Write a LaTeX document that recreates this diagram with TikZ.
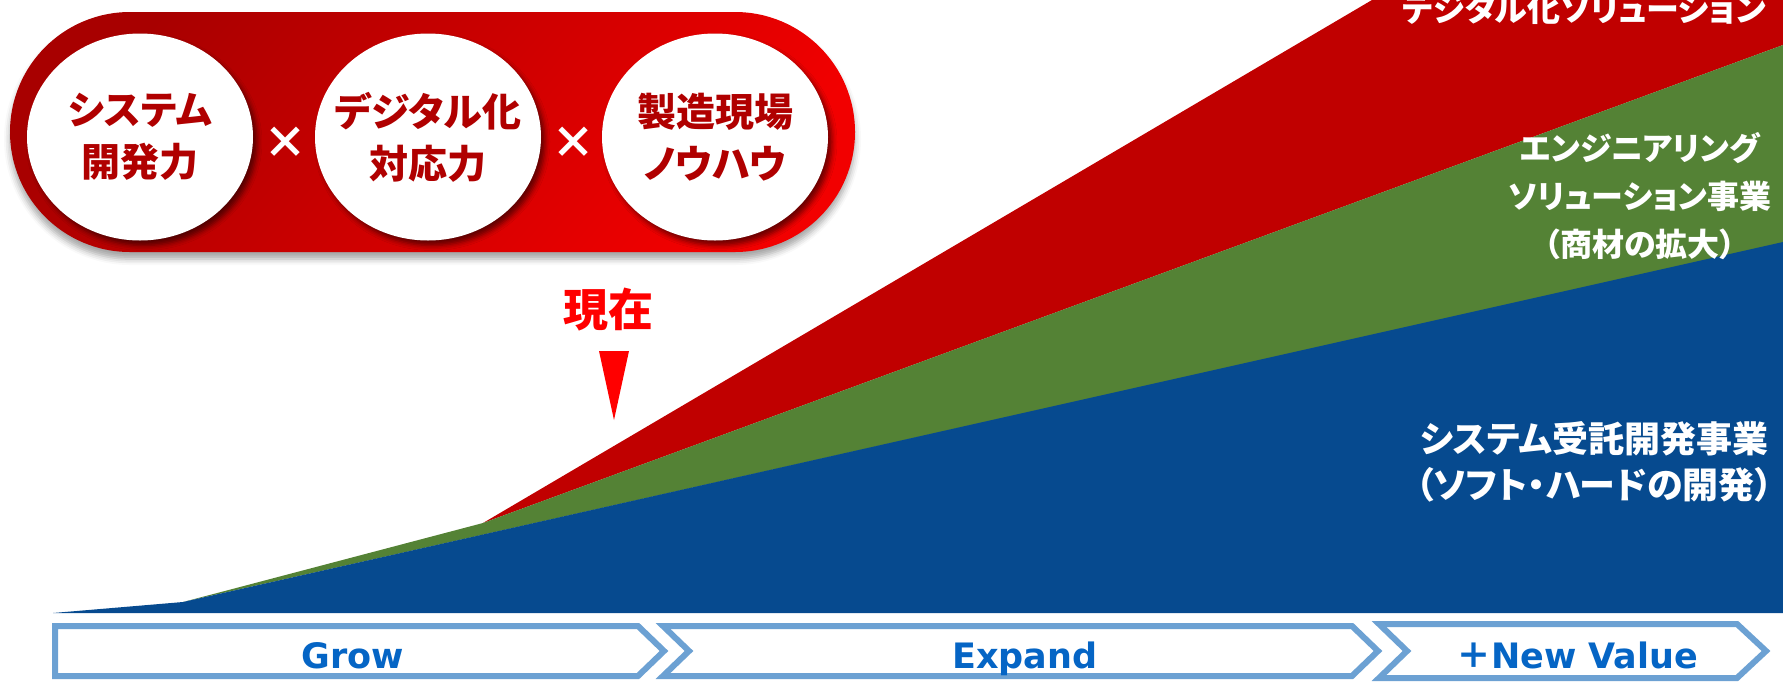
\documentclass[tikz,border=0pt]{standalone}
\usepackage{fontspec}
\usetikzlibrary{shapes.geometric,shadows.blur}
\newfontfamily\jp{Noto Sans CJK JP}[RawFeature={+palt}]
\newfontfamily\lat{DejaVu Sans}
\definecolor{areaBlue}{HTML}{064A8F}
\definecolor{areaGreen}{HTML}{548235}
\definecolor{areaRed}{HTML}{C00000}
\definecolor{pillDark}{HTML}{A80000}
\definecolor{pillBright}{HTML}{F20000}
\definecolor{circText}{HTML}{B00000}
\definecolor{chevBlue}{HTML}{6CA1D3}
\definecolor{phaseText}{HTML}{0565C5}
\definecolor{nowRed}{HTML}{FF0000}
\tikzset{
  pill/.style={rectangle, rounded corners=120pt, minimum width=845pt, minimum height=240pt,
    top color=pillDark, bottom color=pillBright, shading angle=50,
    blur shadow={shadow xshift=0pt, shadow yshift=-7pt, shadow blur radius=6pt, shadow opacity=35}},
  circ/.style={ellipse, fill=white, minimum width=226pt, minimum height=207pt, inner sep=0pt,
    blur shadow={shadow xshift=4pt, shadow yshift=-5pt, shadow blur radius=5pt, shadow opacity=55}},
  circtext/.style={align=center, text=circText, inner sep=0pt, font=\jp\bfseries\fontsize{39pt}{52pt}\selectfont},
  times/.style={text=white, font=\jp\bfseries\fontsize{44pt}{44pt}\selectfont, inner sep=0pt},
  chev/.style={draw=chevBlue, line width=6pt, fill=white, line join=miter},
  phase/.style={text=phaseText, font=\lat\bfseries\fontsize{35pt}{35pt}\selectfont, inner sep=0pt, anchor=base},
  arealabel/.style={text=white, align=center, inner sep=0pt},
}
\begin{document}
\begin{tikzpicture}[x=1pt,y=-1pt]
\useasboundingbox (0,0) rectangle (1783,681);
% chart areas
\fill[areaRed] (483,523) -- (1372,0) -- (1783,0) -- (1783,45) -- cycle;
\fill[areaGreen] (183,602) -- (483,523) -- (1783,45) -- (1783,243) -- cycle;
\fill[areaBlue] (53,613) -- (183,602) -- (1783,242) -- (1783,613) -- cycle;
% area labels
\node[arealabel, anchor=base east, font=\jp\bfseries\fontsize{33pt}{40pt}\selectfont] (lred) at (1766,21) {デジタル化ソリューション};
\node[arealabel, font=\jp\bfseries\fontsize{32pt}{48pt}\selectfont] (lgreen) at (1640,196) {エンジニアリング\\ソリューション事業\\（商材の拡大）};
\node[arealabel, font=\jp\bfseries\fontsize{36pt}{46pt}\selectfont] (lblue) at (1594,462) {システム受託開発事業\\（ソフト・ハードの開発）};
% pill
\node[pill] (pill) at (432.5,132) {};
\node[circ] (c1) at (140,137) {};
\node[circ] (c2) at (428,137) {};
\node[circ] (c3) at (715,137) {};
\node[circtext] (t1) at (c1) {システム\\開発力};
\node[circtext] (t2) at (c2) {デジタル化\\対応力};
\node[circtext] (t3) at (c3) {製造現場\\ノウハウ};
\node[times] (x1) at (285,143) {×};
\node[times] (x2) at (573,143) {×};
% now marker
\node[text=nowRed, font=\jp\bfseries\fontsize{45pt}{45pt}\selectfont, inner sep=0pt] (now) at (608,310) {現在};
\fill[nowRed] (599,351) -- (629,351) -- (614,420) -- cycle;
% phase chevrons
\draw[chev] (55,626) -- (638,626) -- (664,651) -- (638,676) -- (55,676) -- cycle;
\draw[chev] (663,626) -- (1352,626) -- (1378,651) -- (1352,676) -- (663,676) -- (689,651) -- cycle;
\draw[chev] (1379,624) -- (1737,624) -- (1766,651) -- (1737,678) -- (1379,678) -- (1407,651) -- cycle;
\node[phase] (grow) at (353,668) {Grow};
\node[phase] (expand) at (1025,668) {Expand};
\node[phase] (newvalue) at (1577,668) {{\jp ＋}New Value};
\end{tikzpicture}
\end{document}
